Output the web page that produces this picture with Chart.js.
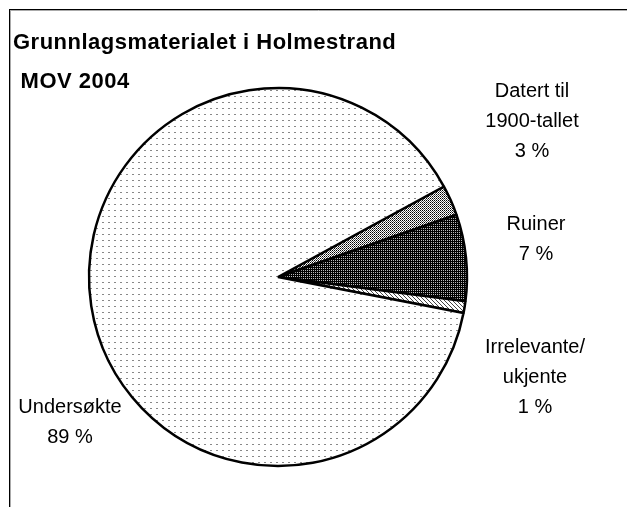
<!DOCTYPE html>
<html>
<head>
<meta charset="utf-8">
<script src="https://cdn.jsdelivr.net/npm/chart.js@4/dist/chart.umd.min.js"></script>
<style>
  html, body { margin: 0; padding: 0; background: #fff; }
  canvas { display: block; }
</style>
</head>
<body>
<canvas id="pieChart" width="627" height="507"></canvas>
<script>
// Data (percent of material)
const categories = [['Datert til', '1900-tallet'], ['Ruiner'], ['Irrelevante/', 'ukjente'], ['Undersøkte']];
const shares = [2.6, 7.4, 1.0, 89.0];
const titleLines = ['Grunnlagsmaterialet i Holmestrand', ' MOV 2004'];

// Label centres relative to the pie centre (first line), px
const labelOffsets = [[254, -186], [258, -53], [257, 70], [-208, 130]];

// Excel-ish fill patterns
function makePattern(size, draw) {
    const c = document.createElement('canvas');
    c.width = size; c.height = size;
    const g = c.getContext('2d');
    g.fillStyle = '#fff';
    g.fillRect(0, 0, size, size);
    draw(g);
    return document.getElementById('pieChart').getContext('2d').createPattern(c, 'repeat');
}

const patterns = [
    // gray checker
    makePattern(2, g => { g.fillStyle = '#000'; g.fillRect(0, 0, 1, 1); g.fillStyle = '#555'; g.fillRect(1, 1, 1, 1); }),
    // dark checker
    makePattern(2, g => { g.fillStyle = '#000'; g.fillRect(0, 0, 1, 1); g.fillRect(1, 1, 1, 1); g.fillRect(0, 1, 1, 1); g.fillStyle = '#bbb'; g.fillRect(1, 0, 1, 1); }),
    // diagonal hatch
    makePattern(4, g => { g.fillStyle = '#444'; for (let i = 0; i < 4; i++) g.fillRect(i, i, 1, 1); }),
    // sparse dots
    makePattern(6, g => { g.fillStyle = '#888'; g.fillRect(0, 0, 2, 1); })
];

const decorPlugin = {
    id: 'decor',
    beforeDraw(chart) {
        const ctx = chart.ctx;
        ctx.save();
        ctx.fillStyle = '#fff';
        ctx.fillRect(0, 0, chart.width, chart.height);
        // frame (top and left edges only visible)
        ctx.strokeStyle = '#000';
        ctx.lineWidth = 1;
        ctx.beginPath();
        ctx.moveTo(9, 9.5); ctx.lineTo(chart.width, 9.5);
        ctx.moveTo(9.5, 9); ctx.lineTo(9.5, chart.height);
        ctx.stroke();
        ctx.strokeStyle = '#aaa';
        ctx.beginPath();
        ctx.moveTo(10, 10.5); ctx.lineTo(chart.width, 10.5);
        ctx.moveTo(10.5, 10); ctx.lineTo(10.5, chart.height);
        ctx.stroke();
        ctx.restore();
    },
    afterDraw(chart) {
        const ctx = chart.ctx;
        ctx.save();
        // title
        ctx.fillStyle = '#000';
        ctx.font = 'bold 22px "Liberation Sans", Arial, sans-serif';
        ctx.letterSpacing = '0.5px';
        ctx.textAlign = 'left';
        ctx.textBaseline = 'alphabetic';
        ctx.fillText(titleLines[0], 13, 49);
        ctx.fillText(titleLines[1], 14, 88);
        ctx.letterSpacing = '0px';

        // data labels
        const meta = chart.getDatasetMeta(0);
        ctx.font = '20px "Liberation Sans", Arial, sans-serif';
        ctx.textAlign = 'center';
        ctx.textBaseline = 'middle';
        meta.data.forEach((arc, i) => {
            const lines = categories[i].concat(Math.round(shares[i]) + ' %');
            const x = arc.x + labelOffsets[i][0];
            let y = arc.y + labelOffsets[i][1];
            lines.forEach(t => { ctx.fillText(t, x, y); y += 30; });
        });
        ctx.restore();
    }
};

new Chart(document.getElementById('pieChart'), {
    type: 'pie',
    data: {
        labels: categories.map(c => c.join(' ')),
        datasets: [{
            data: shares,
            backgroundColor: patterns,
            borderColor: '#000',
            borderWidth: 2.5
        }]
    },
    options: {
        responsive: false,
        animation: false,
        rotation: 61.4,
        radius: 189,
        layout: { padding: { left: 80, right: 151, top: 70, bottom: 23 } },
        plugins: {
            legend: { display: false },
            tooltip: { enabled: false },
            title: { display: false }
        }
    },
    plugins: [decorPlugin]
});
</script>
</body>
</html>
